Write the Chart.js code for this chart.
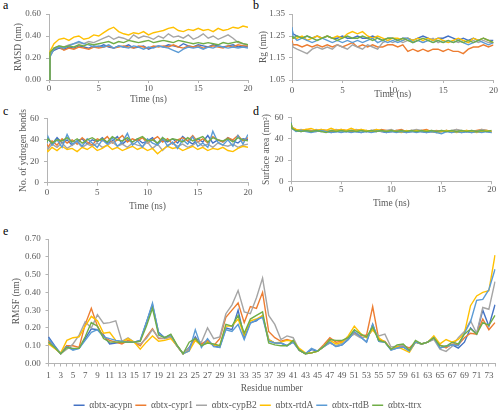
<!DOCTYPE html>
<html>
<head>
<meta charset="utf-8">
<script src="https://cdn.jsdelivr.net/npm/chart.js@4.4.1/dist/chart.umd.min.js"></script>
<style>
  body { margin: 0; width: 500px; height: 410px; overflow: hidden; background: #fff; position: relative; }
  canvas { position: absolute; }
  .tag { position: absolute; font: 12px 'Liberation Serif', serif; color: #000; }
</style>
</head>
<body>
<div class="tag" style="left:3px;top:-2px">a</div>
<div class="tag" style="left:253px;top:-2px">b</div>
<div class="tag" style="left:3px;top:104px">c</div>
<div class="tag" style="left:253px;top:104px">d</div>
<div class="tag" style="left:3px;top:224px">e</div>
<canvas id="cA" width="262" height="108" style="left:0;top:0"></canvas>
<canvas id="cB" width="250" height="108" style="left:250px;top:0"></canvas>
<canvas id="cC" width="262" height="107" style="left:0;top:108px"></canvas>
<canvas id="cD" width="250" height="107" style="left:250px;top:108px"></canvas>
<canvas id="cE" width="506" height="195" style="left:0;top:225px"></canvas>
<script>
// series names and colours (Excel office palette)
const names = ['\u03b1btx-acypn', '\u03b1btx-cypr1', '\u03b1btx-cypB2', '\u03b1btx-rtdA', '\u03b1btx-rtdB', '\u03b1btx-ttrx'];
const colors = ['#4472C4', '#ED7D31', '#A5A5A5', '#FFC000', '#5B9BD5', '#70AD47'];

// time axis (ns) shared by panels a-d
const times = [0, 0.1, 0.5, 1, 1.5, 2, 2.5, 3, 3.5, 4, 4.5, 5, 5.5, 6, 6.5, 7, 7.5, 8, 8.5, 9, 9.5, 10,
  10.5, 11, 11.5, 12, 12.5, 13, 13.5, 14, 14.5, 15, 15.5, 16, 16.5, 17, 17.5, 18, 18.5, 19, 19.5, 20];

// a - RMSD (nm)
const rmsdAcypn = [0, 0.24, 0.27, 0.29, 0.28, 0.30, 0.29, 0.31, 0.30, 0.29, 0.31, 0.30, 0.32, 0.30, 0.29, 0.31, 0.30, 0.32, 0.29, 0.30, 0.31, 0.28, 0.30, 0.31, 0.30, 0.32, 0.31, 0.30, 0.33, 0.31, 0.30, 0.32, 0.31, 0.30, 0.32, 0.31, 0.30, 0.31, 0.32, 0.30, 0.31, 0.30];
const rmsdCypr1 = [0, 0.22, 0.28, 0.30, 0.27, 0.29, 0.28, 0.30, 0.29, 0.28, 0.30, 0.29, 0.30, 0.31, 0.29, 0.30, 0.31, 0.30, 0.29, 0.31, 0.30, 0.29, 0.31, 0.30, 0.31, 0.30, 0.32, 0.30, 0.29, 0.31, 0.30, 0.31, 0.29, 0.30, 0.31, 0.30, 0.29, 0.31, 0.30, 0.32, 0.31, 0.31];
const rmsdCypB2 = [0, 0.23, 0.29, 0.31, 0.30, 0.32, 0.33, 0.34, 0.33, 0.35, 0.34, 0.36, 0.38, 0.40, 0.37, 0.39, 0.38, 0.36, 0.41, 0.38, 0.40, 0.39, 0.37, 0.40, 0.38, 0.42, 0.39, 0.40, 0.38, 0.41, 0.37, 0.39, 0.42, 0.38, 0.40, 0.37, 0.39, 0.41, 0.38, 0.34, 0.33, 0.32];
const rmsdRtdA = [0, 0.26, 0.33, 0.37, 0.38, 0.36, 0.39, 0.40, 0.37, 0.38, 0.41, 0.40, 0.43, 0.46, 0.48, 0.44, 0.42, 0.41, 0.43, 0.42, 0.44, 0.41, 0.43, 0.44, 0.45, 0.47, 0.48, 0.45, 0.44, 0.46, 0.45, 0.47, 0.45, 0.46, 0.44, 0.47, 0.45, 0.46, 0.48, 0.47, 0.49, 0.48];
const rmsdRtdB = [0, 0.21, 0.28, 0.30, 0.29, 0.31, 0.33, 0.35, 0.33, 0.32, 0.30, 0.31, 0.30, 0.32, 0.29, 0.31, 0.30, 0.29, 0.31, 0.30, 0.28, 0.30, 0.29, 0.31, 0.30, 0.29, 0.27, 0.25, 0.28, 0.30, 0.29, 0.30, 0.28, 0.30, 0.29, 0.31, 0.30, 0.29, 0.30, 0.29, 0.30, 0.29];
const rmsdTtrx = [0, 0.25, 0.29, 0.31, 0.30, 0.31, 0.30, 0.32, 0.31, 0.33, 0.32, 0.33, 0.34, 0.35, 0.33, 0.35, 0.34, 0.36, 0.35, 0.34, 0.35, 0.36, 0.34, 0.35, 0.36, 0.35, 0.34, 0.36, 0.35, 0.34, 0.33, 0.34, 0.33, 0.34, 0.33, 0.32, 0.34, 0.33, 0.34, 0.35, 0.33, 0.32];

// b - Rg (nm)
const rgAcypn = [1.28, 1.26, 1.25, 1.24, 1.25, 1.24, 1.25, 1.24, 1.25, 1.24, 1.24, 1.25, 1.24, 1.24, 1.25, 1.24, 1.24, 1.25, 1.24, 1.23, 1.24, 1.24, 1.23, 1.24, 1.24, 1.23, 1.24, 1.25, 1.24, 1.23, 1.24, 1.24, 1.25, 1.24, 1.23, 1.24, 1.23, 1.24, 1.23, 1.24, 1.23, 1.23];
const rgCypr1 = [1.23, 1.21, 1.21, 1.20, 1.21, 1.20, 1.21, 1.20, 1.21, 1.20, 1.21, 1.20, 1.21, 1.22, 1.20, 1.21, 1.20, 1.21, 1.20, 1.20, 1.21, 1.21, 1.20, 1.21, 1.18, 1.19, 1.18, 1.19, 1.18, 1.19, 1.19, 1.18, 1.19, 1.18, 1.18, 1.17, 1.19, 1.20, 1.20, 1.21, 1.20, 1.21];
const rgCypB2 = [1.22, 1.20, 1.19, 1.18, 1.17, 1.19, 1.20, 1.19, 1.20, 1.19, 1.21, 1.20, 1.19, 1.21, 1.20, 1.19, 1.21, 1.20, 1.19, 1.22, 1.23, 1.22, 1.23, 1.22, 1.23, 1.22, 1.23, 1.22, 1.23, 1.24, 1.22, 1.23, 1.22, 1.23, 1.22, 1.23, 1.22, 1.23, 1.22, 1.23, 1.22, 1.22];
const rgRtdA = [1.25, 1.24, 1.24, 1.25, 1.23, 1.24, 1.25, 1.24, 1.25, 1.24, 1.25, 1.24, 1.26, 1.27, 1.26, 1.27, 1.25, 1.24, 1.25, 1.24, 1.23, 1.24, 1.24, 1.23, 1.24, 1.23, 1.24, 1.23, 1.24, 1.23, 1.24, 1.23, 1.22, 1.23, 1.24, 1.23, 1.22, 1.24, 1.23, 1.24, 1.23, 1.22];
const rgRtdB = [1.29, 1.25, 1.23, 1.24, 1.23, 1.22, 1.23, 1.24, 1.23, 1.22, 1.23, 1.22, 1.23, 1.22, 1.23, 1.22, 1.23, 1.24, 1.22, 1.23, 1.22, 1.23, 1.22, 1.23, 1.24, 1.22, 1.23, 1.22, 1.23, 1.22, 1.23, 1.22, 1.23, 1.22, 1.23, 1.22, 1.21, 1.22, 1.23, 1.22, 1.21, 1.22];
const rgTtrx = [1.25, 1.24, 1.25, 1.24, 1.25, 1.24, 1.23, 1.24, 1.25, 1.24, 1.23, 1.24, 1.25, 1.24, 1.24, 1.25, 1.24, 1.23, 1.24, 1.23, 1.24, 1.24, 1.23, 1.24, 1.23, 1.22, 1.23, 1.24, 1.23, 1.22, 1.23, 1.22, 1.23, 1.22, 1.23, 1.22, 1.23, 1.22, 1.23, 1.24, 1.23, 1.22];

// c - number of hydrogen bonds
const hbAcypn = [38, 41, 36, 42, 37, 40, 35, 39, 41, 36, 40, 38, 42, 37, 39, 43, 36, 40, 38, 41, 37, 39, 42, 36, 40, 38, 41, 37, 43, 39, 36, 41, 38, 44, 37, 40, 38, 42, 39, 37, 41, 40];
const hbCypr1 = [36, 33, 39, 35, 41, 37, 40, 36, 42, 38, 35, 41, 39, 43, 37, 40, 44, 38, 41, 39, 42, 37, 40, 43, 38, 41, 36, 40, 42, 39, 44, 38, 41, 37, 43, 40, 38, 42, 40, 44, 39, 42];
const hbCypB2 = [34, 31, 36, 33, 37, 32, 35, 38, 33, 36, 34, 37, 33, 35, 38, 34, 36, 33, 37, 35, 34, 38, 32, 36, 30, 35, 37, 34, 36, 33, 35, 38, 34, 36, 33, 37, 35, 34, 36, 33, 35, 36];
const hbRtdA = [31, 29, 33, 30, 34, 31, 32, 29, 33, 31, 34, 30, 32, 35, 31, 33, 30, 32, 34, 31, 33, 30, 32, 27, 31, 34, 32, 33, 30, 32, 34, 31, 33, 30, 32, 31, 33, 30, 29, 32, 34, 33];
const hbRtdB = [37, 43, 35, 40, 33, 45, 36, 39, 34, 41, 37, 33, 40, 36, 42, 34, 38, 46, 35, 39, 33, 41, 37, 35, 42, 34, 38, 32, 40, 36, 43, 34, 37, 33, 48, 38, 35, 40, 34, 44, 36, 45];
const hbTtrx = [38, 41, 37, 40, 39, 42, 38, 41, 37, 40, 42, 39, 41, 38, 43, 40, 39, 42, 38, 41, 43, 39, 40, 37, 42, 39, 41, 40, 38, 42, 39, 41, 43, 38, 42, 40, 39, 41, 38, 42, 40, 39];

// d - surface area (nm2)
const saAcypn = [53, 50, 48, 47, 48, 47, 48, 47, 48, 46, 47, 48, 47, 48, 47, 46, 48, 47, 48, 47, 46, 47, 48, 47, 46, 47, 48, 47, 46, 47, 46, 47, 48, 46, 47, 46, 47, 46, 47, 48, 47, 46];
const saCypr1 = [55, 51, 49, 48, 49, 48, 47, 49, 48, 47, 48, 49, 48, 47, 48, 49, 47, 48, 47, 49, 48, 47, 48, 49, 47, 48, 47, 48, 49, 47, 48, 47, 48, 47, 49, 47, 48, 47, 48, 49, 48, 47];
const saCypB2 = [54, 50, 48, 49, 48, 47, 49, 48, 47, 48, 49, 48, 47, 48, 49, 48, 47, 48, 49, 47, 48, 49, 47, 48, 47, 48, 49, 48, 47, 48, 47, 48, 47, 48, 49, 48, 47, 48, 47, 49, 48, 47];
const saRtdA = [54, 51, 49, 48, 49, 50, 48, 49, 48, 50, 48, 49, 48, 50, 48, 49, 48, 47, 49, 48, 47, 48, 47, 46, 48, 47, 48, 47, 48, 47, 46, 47, 48, 47, 46, 47, 48, 47, 46, 47, 48, 47];
const saRtdB = [56, 50, 47, 48, 47, 46, 47, 48, 47, 46, 47, 46, 47, 46, 47, 46, 47, 46, 47, 48, 46, 47, 46, 47, 46, 47, 46, 47, 46, 47, 46, 45, 47, 46, 47, 46, 47, 46, 47, 46, 47, 46];
const saTtrx = [55, 50, 48, 47, 48, 47, 48, 47, 46, 48, 47, 48, 47, 48, 47, 48, 47, 48, 47, 48, 47, 48, 47, 48, 47, 48, 47, 48, 47, 48, 47, 48, 47, 48, 47, 48, 47, 48, 47, 48, 47, 48];

// e - RMSF (nm) per residue
const residues = ['1','2','3','4','5','6','7','8','9','10','11','12','13','14','15','16','17','18','19','20',
  '21','22','23','24','25','26','27','28','29','30','31','32','33','34','35','36','37','38','39','40',
  '41','42','43','44','45','46','47','48','49','50','51','52','53','54','55','56','57','58','59','60',
  '61','62','63','64','65','66','67','68','69','70','71','72','73','74'];
const rmsfAcypn = [0.15, 0.10, 0.055, 0.10, 0.08, 0.085, 0.14, 0.195, 0.19, 0.16, 0.11, 0.115, 0.12, 0.12, 0.12, 0.13, 0.23, 0.33, 0.175, 0.145,
  0.16, 0.10, 0.055, 0.09, 0.15, 0.10, 0.13, 0.10, 0.09, 0.20, 0.19, 0.30, 0.145, 0.23, 0.24, 0.27, 0.135, 0.115, 0.115, 0.10,
  0.12, 0.075, 0.055, 0.078, 0.07, 0.095, 0.12, 0.095, 0.105, 0.135, 0.175, 0.15, 0.12, 0.22, 0.125, 0.12, 0.078, 0.087, 0.093, 0.07,
  0.12, 0.11, 0.12, 0.145, 0.087, 0.097, 0.105, 0.087, 0.12, 0.20, 0.165, 0.30, 0.21, 0.33];
const rmsfCypr1 = [0.13, 0.09, 0.055, 0.10, 0.10, 0.09, 0.22, 0.31, 0.21, 0.15, 0.13, 0.12, 0.11, 0.13, 0.12, 0.10, 0.15, 0.195, 0.14, 0.14,
  0.15, 0.10, 0.055, 0.08, 0.14, 0.11, 0.13, 0.10, 0.14, 0.26, 0.30, 0.34, 0.23, 0.32, 0.31, 0.40, 0.18, 0.145, 0.125, 0.135,
  0.125, 0.075, 0.055, 0.06, 0.07, 0.105, 0.145, 0.12, 0.125, 0.145, 0.175, 0.155, 0.16, 0.32, 0.135, 0.125, 0.08, 0.095, 0.10, 0.087,
  0.12, 0.11, 0.12, 0.14, 0.105, 0.087, 0.11, 0.105, 0.145, 0.17, 0.165, 0.25, 0.19, 0.23];
const rmsfCypB2 = [0.12, 0.09, 0.055, 0.08, 0.11, 0.16, 0.235, 0.20, 0.275, 0.225, 0.23, 0.24, 0.125, 0.145, 0.12, 0.11, 0.14, 0.19, 0.145, 0.14,
  0.15, 0.10, 0.055, 0.085, 0.13, 0.12, 0.20, 0.14, 0.15, 0.28, 0.33, 0.41, 0.29, 0.28, 0.37, 0.48, 0.27, 0.22, 0.135, 0.155,
  0.145, 0.075, 0.055, 0.06, 0.07, 0.095, 0.115, 0.10, 0.115, 0.145, 0.165, 0.145, 0.15, 0.19, 0.155, 0.165, 0.093, 0.097, 0.105, 0.075,
  0.12, 0.11, 0.12, 0.135, 0.08, 0.068, 0.097, 0.145, 0.18, 0.24, 0.17, 0.315, 0.305, 0.46];
const rmsfRtdA = [0.11, 0.085, 0.06, 0.13, 0.145, 0.15, 0.21, 0.265, 0.24, 0.17, 0.175, 0.13, 0.12, 0.14, 0.12, 0.08, 0.12, 0.155, 0.125, 0.13,
  0.14, 0.10, 0.055, 0.07, 0.13, 0.10, 0.12, 0.105, 0.10, 0.21, 0.21, 0.25, 0.16, 0.24, 0.25, 0.27, 0.135, 0.115, 0.12, 0.13,
  0.125, 0.085, 0.06, 0.06, 0.07, 0.095, 0.13, 0.11, 0.12, 0.155, 0.21, 0.17, 0.145, 0.19, 0.145, 0.12, 0.08, 0.095, 0.08, 0.063,
  0.12, 0.11, 0.12, 0.155, 0.11, 0.135, 0.12, 0.135, 0.17, 0.325, 0.38, 0.40, 0.41, 0.61];
const rmsfRtdB = [0.14, 0.095, 0.055, 0.095, 0.075, 0.085, 0.13, 0.175, 0.19, 0.15, 0.14, 0.13, 0.125, 0.12, 0.12, 0.13, 0.23, 0.34, 0.17, 0.145,
  0.16, 0.10, 0.055, 0.07, 0.19, 0.09, 0.14, 0.095, 0.09, 0.19, 0.18, 0.22, 0.135, 0.225, 0.245, 0.26, 0.125, 0.115, 0.115, 0.10,
  0.12, 0.075, 0.055, 0.085, 0.07, 0.095, 0.12, 0.095, 0.105, 0.135, 0.18, 0.15, 0.12, 0.22, 0.125, 0.12, 0.075, 0.087, 0.093, 0.07,
  0.12, 0.11, 0.12, 0.145, 0.087, 0.097, 0.105, 0.10, 0.17, 0.235, 0.355, 0.36, 0.415, 0.53];
const rmsfTtrx = [0.12, 0.09, 0.055, 0.09, 0.085, 0.085, 0.15, 0.23, 0.21, 0.14, 0.12, 0.12, 0.12, 0.12, 0.12, 0.125, 0.21, 0.31, 0.16, 0.145,
  0.165, 0.105, 0.055, 0.12, 0.14, 0.10, 0.115, 0.11, 0.10, 0.22, 0.21, 0.27, 0.17, 0.25, 0.27, 0.29, 0.115, 0.105, 0.10, 0.10,
  0.13, 0.075, 0.055, 0.06, 0.07, 0.095, 0.135, 0.13, 0.13, 0.145, 0.19, 0.165, 0.15, 0.205, 0.13, 0.12, 0.08, 0.105, 0.11, 0.075,
  0.13, 0.11, 0.12, 0.145, 0.10, 0.097, 0.12, 0.11, 0.165, 0.195, 0.165, 0.23, 0.215, 0.27];

const axisGray = '#b4b4b4';
Chart.defaults.font.family = "'Liberation Serif', 'Times New Roman', serif";
Chart.defaults.font.size = 9;
Chart.defaults.color = '#595959';

function lineSets(series, xs) {
  return series.map((vals, i) => ({
    label: names[i],
    data: xs ? xs.map((t, k) => ({ x: t, y: vals[k] })) : vals,
    borderColor: colors[i],
    backgroundColor: colors[i],
    borderWidth: 1.4,
    pointRadius: 0,
    tension: 0,
    order: 5 - i
  }))
}

function timePanel(id, series, yOpt, box) {
  return new Chart(document.getElementById(id), {
    type: 'line',
    data: { datasets: lineSets(series, times) },
    options: {
      animation: false,
      responsive: false,
      layout: { padding: { top: box.top, right: box.right, left: 0, bottom: 0 } },
      plugins: { legend: { display: false }, tooltip: { enabled: false } },
      scales: {
        x: {
          type: 'linear', min: 0, max: 20,
          ticks: { stepSize: 5, padding: box.xtPad, maxRotation: 0 },
          grid: { drawOnChartArea: false, tickLength: 3, color: axisGray },
          border: { color: axisGray },
          title: { display: true, text: 'Time (ns)', font: { size: 9.5 }, padding: { top: 0, bottom: box.xbPad } },
          afterFit: s => { s.height = box.xh }
        },
        y: {
          min: yOpt.min, max: yOpt.max,
          ticks: { stepSize: yOpt.step, padding: box.ytkPad, callback: yOpt.fmt },
          grid: { drawOnChartArea: false, tickLength: 3, color: axisGray },
          border: { color: axisGray },
          title: { display: true, text: box.title, font: { size: 9.5 }, padding: { top: box.ytPad, bottom: 0 } },
          afterFit: s => { s.width = box.yw }
        }
      }
    }
  })
}

timePanel('cA', [rmsdAcypn, rmsdCypr1, rmsdCypB2, rmsdRtdA, rmsdRtdB, rmsdTtrx],
  { min: 0, max: 0.6, step: 0.2, fmt: v => v.toFixed(2) },
  { top: 14, right: 14, yw: 49, xh: 28, xtPad: 0, xbPad: 2.6, ytPad: 12.3, ytkPad: 5, title: 'RMSD (nm)' });

timePanel('cB', [rgAcypn, rgCypr1, rgCypB2, rgRtdA, rgRtdB, rgTtrx],
  { min: 1.05, max: 1.35, step: 0.05, fmt: v => String(Number(v.toFixed(2))) },
  { top: 14, right: 6, yw: 42, xh: 28, xtPad: 2, xbPad: 8.3, ytPad: 7.3, ytkPad: 4, title: 'Rg (nm)' });

timePanel('cC', [hbAcypn, hbCypr1, hbCypB2, hbRtdA, hbRtdB, hbTtrx],
  { min: 0, max: 60, step: 20, fmt: v => v },
  { top: 8.7, right: 14, yw: 47, xh: 32.3, xtPad: 1.3, xbPad: 2.9, ytPad: 17.3, ytkPad: 5, title: 'No. of ydrogen bonds' });

timePanel('cD', [saAcypn, saCypr1, saCypB2, saRtdA, saRtdB, saTtrx],
  { min: 0, max: 60, step: 20, fmt: v => v },
  { top: 8, right: 8.3, yw: 41, xh: 33.7, xtPad: 0.3, xbPad: 6.3, ytPad: 10.3, ytkPad: 4.4, title: 'Surface area (nm\u00b2)' });

// e - RMSF (canvas a bit wider than the page so the legend centres like the original)
new Chart(document.getElementById('cE'), {
  type: 'line',
  data: { labels: residues, datasets: lineSets([rmsfAcypn, rmsfCypr1, rmsfCypB2, rmsfRtdA, rmsfRtdB, rmsfTtrx]) },
  options: {
    animation: false,
    responsive: false,
    layout: { padding: { top: 14, right: 11, left: 0, bottom: 0 } },
    plugins: {
      tooltip: { enabled: false },
      legend: {
        position: 'bottom',
        labels: {
          usePointStyle: true, pointStyle: 'line', pointStyleWidth: 11,
          padding: 3, font: { size: 9.5 }, color: '#595959',
          sort: (a, b) => a.datasetIndex - b.datasetIndex
        }
      }
    },
    scales: {
      x: {
        ticks: { autoSkip: false, maxRotation: 0, padding: 3.6, callback: (v, i) => (i % 2 === 0 ? residues[i] : '') },
        grid: { drawOnChartArea: false, tickLength: 3, color: axisGray },
        border: { color: axisGray },
        title: { display: true, text: 'Residue number', font: { size: 9.5 }, padding: { top: 0, bottom: 3 } },
        afterFit: s => { s.height = 34 }
      },
      y: {
        min: 0, max: 0.7,
        ticks: { stepSize: 0.1, padding: 4.8, callback: v => v.toFixed(2) },
        grid: { drawOnChartArea: false, tickLength: 3, color: axisGray },
        border: { color: axisGray },
        title: { display: true, text: 'RMSF (nm)', font: { size: 9.5 }, padding: { top: 10.3, bottom: 0 } },
        afterFit: s => { s.width = 48.5 }
      }
    }
  }
});
</script>
</body>
</html>
